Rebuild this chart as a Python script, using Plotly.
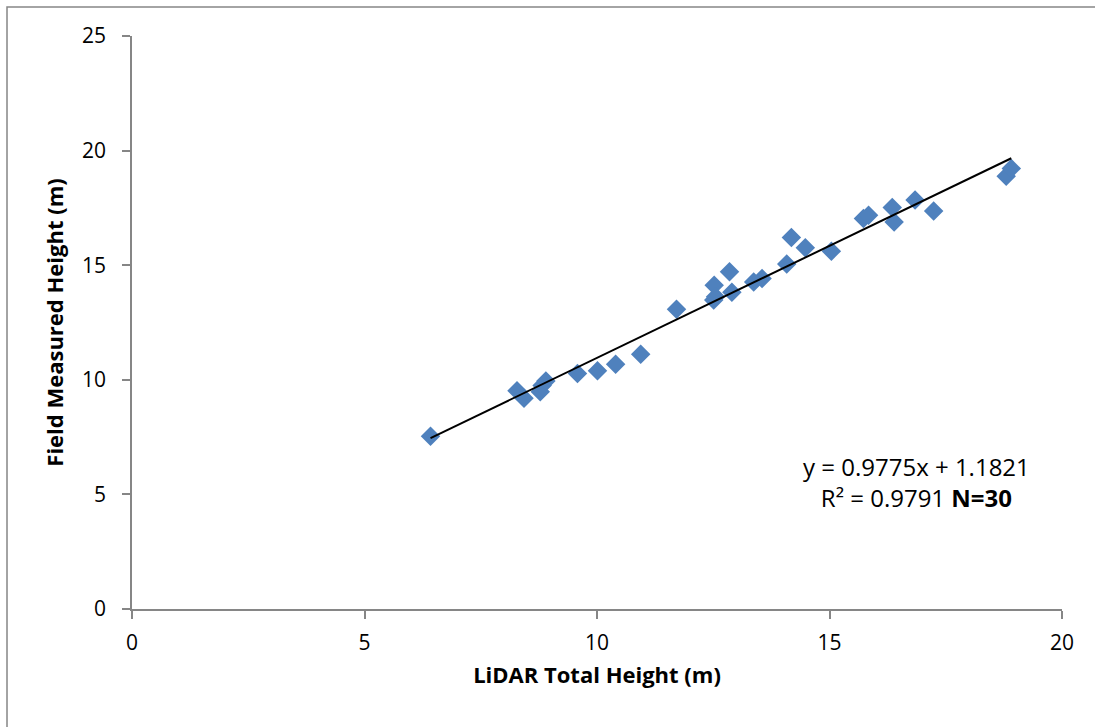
import plotly.graph_objects as go

lidar_height = [6.42, 8.28, 8.43, 8.78, 8.82, 8.90, 9.58, 10.01, 10.40, 10.94,
                11.71, 12.52, 12.51, 12.55, 12.85, 12.90, 13.37, 13.55, 14.08, 14.18,
                14.48, 15.04, 15.73, 15.84, 16.35, 16.39, 16.84, 17.24, 18.80, 18.91]
field_height = [7.54, 9.52, 9.20, 9.48, 9.75, 9.95, 10.28, 10.39, 10.68, 11.12,
                13.08, 14.13, 13.48, 13.62, 14.71, 13.82, 14.27, 14.42, 15.05, 16.21,
                15.76, 15.61, 17.04, 17.18, 17.52, 16.89, 17.84, 17.37, 18.88, 19.22]
slope = 0.9775
intercept = 1.1821
r_squared = 0.9791
n_points = 30

x_line = [min(lidar_height), max(lidar_height)]
y_line = [slope * v + intercept for v in x_line]

FONT = "Open Sans, DejaVu Sans, sans-serif"

fig = go.Figure()
fig.add_trace(go.Scatter(
    x=lidar_height, y=field_height, mode="markers",
    marker=dict(symbol="diamond", size=15, color="#4F81BD",
                line=dict(width=0)),
    showlegend=False, hoverinfo="x+y"))
fig.add_trace(go.Scatter(
    x=x_line, y=y_line, mode="lines",
    line=dict(color="black", width=2), showlegend=False, hoverinfo="skip"))

tick_font = dict(family=FONT, size=21, color="black")
title_font = dict(family=FONT, size=22, color="black")

fig.update_layout(
    width=1095, height=727,
    margin=dict(l=132, r=33, t=36, b=118),
    paper_bgcolor="white", plot_bgcolor="white",
    font=tick_font,
    xaxis=dict(range=[0, 20], tickvals=[0, 5, 10, 15, 20], showgrid=False,
               zeroline=False, showline=True, linecolor="#868686", linewidth=1.5,
               ticks="outside", ticklen=8, tickcolor="#868686", tickwidth=1.5,
               tickfont=tick_font, ticklabelstandoff=6,
               title=dict(text="<b>LiDAR Total Height (m)</b>",
                          font=title_font, standoff=13)),
    yaxis=dict(range=[0, 25], tickvals=[0, 5, 10, 15, 20, 25], showgrid=False,
               zeroline=False, showline=True, linecolor="#868686", linewidth=1.5,
               ticks="outside", ticklen=8, tickcolor="#868686", tickwidth=1.5,
               tickfont=tick_font, ticklabelstandoff=12,
               title=dict(text="<b>Field Measured Height (m)</b>",
                          font=title_font, standoff=12)),
    shapes=[dict(type="rect", xref="paper", yref="paper",
                 x0=-0.1344, x1=1.2, y0=-0.4, y1=1.0506,
                 line=dict(color="#868686", width=1.5), layer="below")],
    annotations=[dict(
        xref="x", yref="y", x=16.88, y=5.56, xanchor="center", yanchor="middle",
        text=f"y = {slope}x + {intercept}<br>R² = {r_squared} <b>N={n_points}</b>",
        showarrow=False, align="center",
        font=dict(family=FONT, size=24, color="black"))],
)

fig.write_html("out.html", config={"displayModeBar": False},
               post_script="document.body.style.margin='0';")
